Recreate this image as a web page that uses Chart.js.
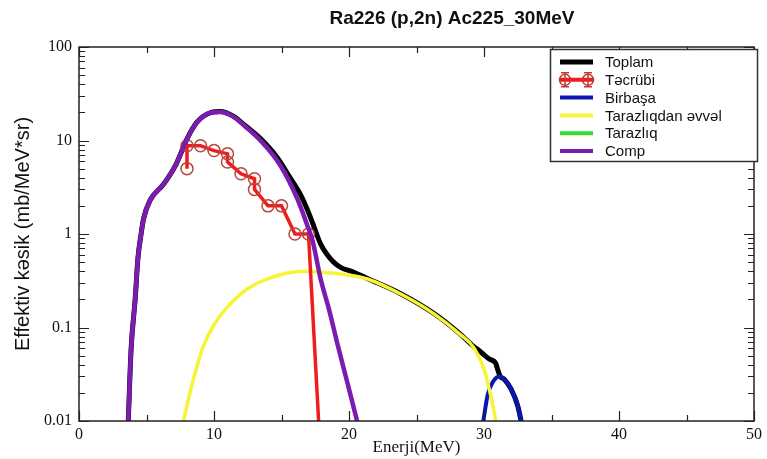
<!DOCTYPE html>
<html><head><meta charset="utf-8">
<script src="https://cdn.jsdelivr.net/npm/chart.js@4.4.0/dist/chart.umd.min.js"></script>
<style>html,body{margin:0;padding:0;background:#fff;}#wrap{width:767px;height:459px;}</style>
</head><body><div id="wrap"><canvas id="c" width="767" height="459"></canvas></div>
<script>
const chartTitle = 'Ra226 (p,2n) Ac225_30MeV';
const xAxisTitle = 'Enerji(MeV)';
const yAxisTitle = 'Effektiv kəsik (mb/MeV*sr)';
const seriesNames = ['Toplam', 'Təcrübi', 'Birbaşa', 'Tarazlıqdan əvvəl', 'Tarazlıq', 'Comp'];
const xTickValues = [0, 10, 20, 30, 40, 50];
const xTickLabels = ['0', '10', '20', '30', '40', '50'];
const yTickValues = [0.01, 0.1, 1, 10, 100];
const yTickLabels = ['0.01', '0.1', '1', '10', '100'];

// Toplam (total)
const toplamE = [3.65, 3.86, 4.16, 4.36, 4.6, 4.78, 5.27, 6.26, 7.2, 8.0, 8.74, 9.73, 10.47, 11.46, 12.32, 13.44, 14.68, 15.5, 16.4, 17.0, 17.4, 17.9, 18.39, 18.86, 19.38, 20.36, 21.36, 23.83, 26.3, 28.2, 29.27, 29.65, 30.0, 30.39, 30.88, 31.0, 31.2, 31.5, 32.0, 32.5, 32.75];
const toplamV = [0.01, 0.059, 0.2, 0.54, 1.0, 1.45, 2.3, 3.4, 5.6, 10.4, 15.7, 19.8, 20.4, 18.1, 14.4, 10.5, 6.6, 4.3, 2.65, 1.7, 1.2, 0.78, 0.6, 0.5, 0.44, 0.39, 0.335, 0.23, 0.141, 0.086, 0.062, 0.0565, 0.051, 0.046, 0.041, 0.036, 0.030, 0.028, 0.022, 0.0145, 0.01];
// Təcrübi (experiment)
const tecrubiE = [8, 8, 9, 10, 11, 11, 12, 13, 13, 14, 15, 16, 17, 17.75];
const tecrubiV = [5.0, 8.8, 8.8, 7.8, 7.2, 5.9, 4.4, 3.9, 3.0, 2.0, 2.0, 1.0, 1.0, 0.01];
// Birbaşa (direct)
const birbasaE = [29.95, 30.27, 30.64, 31.13, 31.5, 32.0, 32.5, 32.75];
const birbasaV = [0.01, 0.019, 0.026, 0.030, 0.028, 0.022, 0.0145, 0.01];
// Tarazlıqdan əvvəl (pre-equilibrium)
const onceE = [7.74, 8.11, 8.61, 9.23, 9.97, 10.97, 12.45, 13.93, 15.42, 16.65, 18.39, 19.62, 21.36, 23.83, 26.3, 28.2, 29.27, 30.0, 30.5, 30.88];
const onceV = [0.01, 0.0172, 0.033, 0.064, 0.105, 0.164, 0.258, 0.33, 0.383, 0.40, 0.385, 0.37, 0.33, 0.228, 0.14, 0.085, 0.06, 0.036, 0.0186, 0.01];
// Tarazlıq (equilibrium) - nothing visible in range
const tarazliqE = [];
const tarazliqV = [];
// Comp (compound)
const compE = [3.65, 3.86, 4.16, 4.36, 4.6, 4.78, 5.27, 6.26, 7.2, 8.0, 8.74, 9.73, 10.47, 11.46, 12.32, 13.44, 14.92, 16.16, 16.9, 17.3, 17.9, 18.5, 19.2, 19.9, 20.6];
const compV = [0.01, 0.059, 0.2, 0.54, 1.0, 1.45, 2.3, 3.4, 5.6, 10.4, 15.7, 19.8, 20.2, 17.9, 14.1, 10.0, 5.4, 2.4, 1.25, 0.85, 0.33, 0.16, 0.062, 0.025, 0.01];

const seriesColors = ['#000000', '#ee1c1c', '#0a16b0', '#f5f535', '#33dd33', '#7a1cb0'];

function pts(E, V) { return E.map((e, i) => ({x: e, y: V[i]})); }

const serifFont = '"Liberation Serif", "Times New Roman", serif';
const sansFont = '"Liberation Sans", Arial, sans-serif';

const framePlugin = {
  id: 'frameTicks',
  afterDatasetsDraw(chart) {
    const {ctx, chartArea: a, scales: {x, y}} = chart;
    ctx.save();
    ctx.strokeStyle = '#222';
    ctx.lineWidth = 1.5;
    ctx.strokeRect(a.left, a.top, a.right - a.left, a.bottom - a.top);
    ctx.lineWidth = 1.2;
    ctx.beginPath();
    for (let v = 0; v <= 50; v += 5) {
      const px = Math.round(x.getPixelForValue(v)) + 0.5;
      const len = v % 10 === 0 ? 10 : 6;
      ctx.moveTo(px, a.bottom); ctx.lineTo(px, a.bottom - len);
      ctx.moveTo(px, a.top); ctx.lineTo(px, a.top + len);
    }
    for (const d of [0.01, 0.1, 1, 10]) {
      for (let k = 1; k <= 10; k++) {
        const py = Math.round(y.getPixelForValue(k * d)) + 0.5;
        const len = (k === 1 || k === 10) ? 10 : 6;
        ctx.moveTo(a.left, py); ctx.lineTo(a.left + len, py);
        ctx.moveTo(a.right, py); ctx.lineTo(a.right - len, py);
      }
    }
    ctx.stroke();
    ctx.restore();
  },
  afterDraw(chart) {
    const {ctx} = chart;
    ctx.save();
    ctx.fillStyle = '#111';
    ctx.font = 'bold 19px ' + sansFont;
    ctx.textAlign = 'center';
    ctx.textBaseline = 'middle';
    ctx.fillText(chartTitle, 452, 19);
    const bx = 550, by = 49, bw = 207, bh = 112;
    ctx.fillStyle = '#fff';
    ctx.fillRect(bx, by, bw, bh);
    ctx.strokeStyle = '#333';
    ctx.lineWidth = 1.5;
    ctx.strokeRect(bx + 0.5, by + 0.5, bw, bh);
    ctx.font = '15px ' + sansFont;
    ctx.textAlign = 'left';
    seriesNames.forEach((name, i) => {
      const yy = 62 + i * 17.8;
      const ds = chart.data.datasets[i];
      ctx.strokeStyle = ds.borderColor;
      ctx.lineWidth = i === 0 ? 5 : 4;
      ctx.beginPath();
      ctx.moveTo(560, yy); ctx.lineTo(593, yy);
      ctx.stroke();
      if (i === 1) {
        ctx.strokeStyle = '#c03a30';
        ctx.lineWidth = 1.5;
        for (const cx of [565, 588]) {
          ctx.beginPath(); ctx.arc(cx, yy, 5.5, 0, Math.PI * 2); ctx.stroke();
          ctx.beginPath();
          ctx.moveTo(cx, yy - 7); ctx.lineTo(cx, yy + 7);
          ctx.moveTo(cx - 4, yy - 7); ctx.lineTo(cx + 4, yy - 7);
          ctx.moveTo(cx - 4, yy + 7); ctx.lineTo(cx + 4, yy + 7);
          ctx.stroke();
        }
      }
      ctx.fillStyle = '#111';
      ctx.fillText(name, 605, yy + 1);
    });
    ctx.restore();
  }
};

const lineBase = {fill: false, pointRadius: 0, cubicInterpolationMode: 'monotone', borderJoinStyle: 'round', borderCapStyle: 'round'};

new Chart(document.getElementById('c'), {
  type: 'line',
  data: {
    datasets: [
      Object.assign({}, lineBase, {label: seriesNames[0], data: pts(toplamE, toplamV), borderColor: seriesColors[0], borderWidth: 5, order: 6}),
      {label: seriesNames[1], data: pts(tecrubiE, tecrubiV), borderColor: seriesColors[1], borderWidth: 3.5, tension: 0, fill: false,
        pointRadius: tecrubiE.map((e, i) => i === tecrubiE.length - 1 ? 0 : 6), pointBorderColor: '#b8463c', pointBorderWidth: 1.5,
        pointBackgroundColor: 'rgba(0,0,0,0)', order: 2},
      Object.assign({}, lineBase, {label: seriesNames[2], data: pts(birbasaE, birbasaV), borderColor: seriesColors[2], borderWidth: 4, order: 5}),
      Object.assign({}, lineBase, {label: seriesNames[3], data: pts(onceE, onceV), borderColor: seriesColors[3], borderWidth: 3.5, order: 4}),
      Object.assign({}, lineBase, {label: seriesNames[4], data: pts(tarazliqE, tarazliqV), borderColor: seriesColors[4], borderWidth: 4, order: 3}),
      Object.assign({}, lineBase, {label: seriesNames[5], data: pts(compE, compV), borderColor: seriesColors[5], borderWidth: 4.5, order: 1})
    ]
  },
  options: {
    responsive: false,
    animation: false,
    devicePixelRatio: 1,
    layout: {padding: {top: 47, right: 13, left: 0, bottom: 0}},
    plugins: {legend: {display: false}, title: {display: false}, tooltip: {enabled: false}},
    scales: {
      x: {
        type: 'linear', min: 0, max: 50,
        afterFit(s) { s.height = 38; },
        afterBuildTicks(s) { s.ticks = xTickValues.map(v => ({value: v})); },
        ticks: {callback: (v, i) => xTickLabels[i], autoSkip: false, maxRotation: 0, padding: 4, color: '#111', font: {family: serifFont, size: 16}},
        grid: {display: false, drawTicks: false},
        border: {display: false},
        title: {display: true, text: xAxisTitle, color: '#111', font: {family: serifFont, size: 17}, padding: {top: 0, bottom: 1}}
      },
      y: {
        type: 'logarithmic', min: 0.01, max: 100,
        afterFit(s) { s.width = 79; },
        afterBuildTicks(s) { s.ticks = yTickValues.map(v => ({value: v})); },
        ticks: {callback: (v, i) => yTickLabels[i], autoSkip: false, padding: 7, color: '#111', font: {family: serifFont, size: 16}},
        grid: {display: false, drawTicks: false},
        border: {display: false},
        title: {display: true, text: yAxisTitle, color: '#111', font: {family: sansFont, size: 20}, padding: {top: 11, bottom: 0}}
      }
    }
  },
  plugins: [framePlugin]
});
</script>
</body></html>
